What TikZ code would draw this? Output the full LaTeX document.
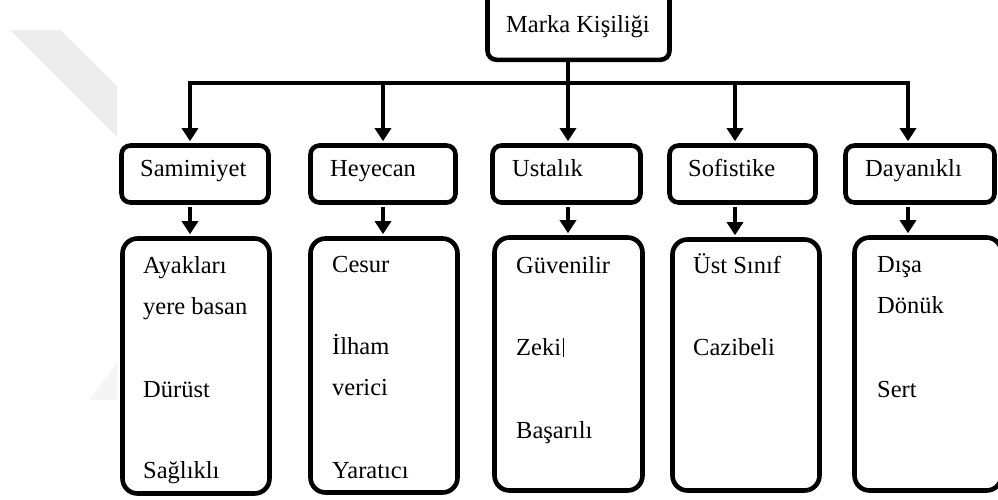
\documentclass[tikz,border=0pt]{standalone}
\usepackage{fontspec}
\setmainfont{Liberation Serif}
\usetikzlibrary{arrows.meta}
\begin{document}
\begin{tikzpicture}[x=1pt,y=-1pt,
  conn/.style={line width=4.6pt, shorten >=2pt, shorten <=2pt},
  tip/.tip={Triangle[length=13pt,width=16pt]},
  headbox/.style={draw, line width=4.6pt, rounded corners=9pt, inner sep=0pt, minimum height=57pt},
  listbox/.style={draw, line width=4.6pt, rounded corners=15pt, inner sep=0pt},
  lbl/.style={anchor=base west, inner sep=0pt, font=\fontsize{24.5}{29}\selectfont},
]
\useasboundingbox (0,0) rectangle (998,499);
\clip (0,0) rectangle (998,499);

% faint background mark
\fill[black!7] (10,30) -- (60,30) -- (117,86) -- (117,137) -- cycle;
\fill[black!4] (90,400) -- (117,362) -- (117,400) -- cycle;

% root
\node[draw, line width=4.6pt, rounded corners=9pt, inner sep=0pt,
      minimum width=182pt, minimum height=90pt] (top) at (578.5,14.8) {};
\node[lbl] (toplbl) at (506,32) {Marka Kişiliği};

% branch points on the bar
\coordinate (b1) at (190,83);
\coordinate (b2) at (383,83);
\coordinate (b3) at (568,83);
\coordinate (b4) at (735,83);
\coordinate (b5) at (908,83);

% dimension boxes
\node[headbox, minimum width=147pt] (s1) at (195,174) {};
\node[headbox, minimum width=145pt] (s2) at (383,174) {};
\node[headbox, minimum width=148pt] (s3) at (566.5,174) {};
\node[headbox, minimum width=146pt] (s4) at (742.5,174) {};
\node[headbox, minimum width=149pt] (s5) at (920,174) {};
\node[lbl] (s1l) at (140,176) {Samimiyet};
\node[lbl] (s2l) at (330,176) {Heyecan};
\node[lbl] (s3l) at (512,176) {Ustalık};
\node[lbl] (s4l) at (688,176) {Sofistike};
\node[lbl] (s5l) at (865,176) {Dayanıklı};

% facet boxes
\node[listbox, minimum width=147pt, minimum height=255pt] (t1) at (196,366) {};
\node[listbox, minimum width=147pt, minimum height=254pt] (t2) at (384,365.5) {};
\node[listbox, minimum width=148pt, minimum height=253pt] (t3) at (568.5,364) {};
\node[listbox, minimum width=147pt, minimum height=251pt] (t4) at (746,365) {};
\node[listbox, minimum width=147pt, minimum height=253pt] (t5) at (928,364) {};

% facet texts
\node[lbl] (t1a) at (143,273) {Ayakları};
\node[lbl] (t1b) at (143,314) {yere basan};
\node[lbl] (t1c) at (143,397) {Dürüst};
\node[lbl] (t1d) at (143,478) {Sağlıklı};

\node[lbl] (t2a) at (332,272) {Cesur};
\node[lbl] (t2b) at (332,354) {İlham};
\node[lbl] (t2c) at (332,395) {verici};
\node[lbl] (t2d) at (332,478) {Yaratıcı};

\node[lbl] (t3a) at (516,273) {Güvenilir};
\node[lbl] (t3b) at (516,355) {Zeki};
\node[lbl] (t3c) at (516,438) {Başarılı};
\draw[line width=1pt] (t3b.base east) ++(2,-17) -- ++(0,19);

\node[lbl] (t4a) at (693,273) {Üst Sınıf};
\node[lbl] (t4b) at (693,355) {Cazibeli};

\node[lbl] (t5a) at (877,272) {Dışa};
\node[lbl] (t5b) at (877,313) {Dönük};
\node[lbl] (t5c) at (877,397) {Sert};

% connectors
\draw[line width=4.6pt] (top.south -| b3) -- (b3);
\draw[conn, tip-tip] (b1 |- s1.north) -- (b1) -- (b5) -- (b5 |- s5.north);
\draw[conn, -tip] (b2) -- (b2 |- s2.north);
\draw[conn, -tip] (b3) -- (b3 |- s3.north);
\draw[conn, -tip] (b4) -- (b4 |- s4.north);

\draw[conn, -tip] (s1.south -| b1) -- (t1.north -| b1);
\draw[conn, -tip] (s2.south -| b2) -- (t2.north -| b2);
\draw[conn, -tip] (s3.south -| b3) -- (t3.north -| b3);
\draw[conn, -tip] (s4.south -| b4) -- (t4.north -| b4);
\draw[conn, -tip] (s5.south -| b5) -- (t5.north -| b5);
\end{tikzpicture}
\end{document}
